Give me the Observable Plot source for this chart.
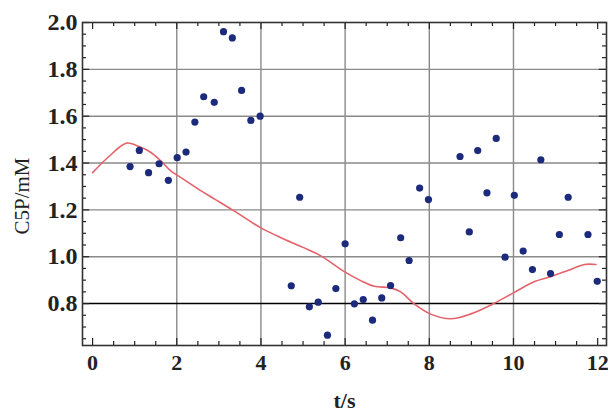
<!DOCTYPE html>
<html>
<head>
<meta charset="utf-8">
<script src="https://cdn.jsdelivr.net/npm/d3@7"></script>
<script src="https://cdn.jsdelivr.net/npm/@observablehq/plot@0.6"></script>
<style>
  html, body { margin: 0; padding: 0; background: #fff; }
  #chart svg { display: block; }
  #chart svg, #chart svg text { font-family: "Liberation Serif", "Times New Roman", serif; }
</style>
</head>
<body>
<div id="chart"></div>
<script>
// Measured points (t in s, C5P in mM)
const tData = [0.89, 1.11, 1.33, 1.58, 1.80, 2.01, 2.22, 2.43, 2.64, 2.89, 3.11, 3.32, 3.54, 3.76, 3.98,
  4.72, 4.92, 5.15, 5.36, 5.58, 5.78, 6.00, 6.22, 6.43, 6.65, 6.87, 7.08, 7.32, 7.52, 7.77, 7.98,
  8.73, 8.95, 9.15, 9.37, 9.59, 9.80, 10.02, 10.23, 10.45, 10.65, 10.88, 11.09, 11.30, 11.77, 11.99];
const cData = [1.385, 1.454, 1.359, 1.397, 1.326, 1.423, 1.447, 1.575, 1.683, 1.659, 1.961, 1.934, 1.710, 1.582, 1.600,
  0.876, 1.254, 0.786, 0.806, 0.665, 0.864, 1.055, 0.799, 0.817, 0.729, 0.824, 0.877, 1.081, 0.984, 1.293, 1.244,
  1.428, 1.106, 1.453, 1.273, 1.505, 0.998, 1.262, 1.024, 0.945, 1.414, 0.928, 1.095, 1.254, 1.095, 0.895];

// Model curve
const curveT = [0, 0.4, 0.81, 1.13, 1.37, 1.61, 1.85, 2.08, 2.56, 2.92, 3.35, 4.0, 4.54, 5.0, 5.34, 5.65, 6.0,
  6.37, 6.69, 7.08, 7.32, 7.64, 8.02, 8.51, 8.99, 9.54, 10.02, 10.5, 10.88, 11.29, 11.69, 11.96];
const curveC = [1.359, 1.43, 1.485, 1.468, 1.447, 1.411, 1.368, 1.34, 1.283, 1.244, 1.197, 1.123, 1.076, 1.04, 1.012, 0.977, 0.934,
  0.898, 0.874, 0.867, 0.850, 0.799, 0.756, 0.735, 0.756, 0.801, 0.848, 0.894, 0.915, 0.941, 0.967, 0.967];

// Axis ticks
const xMajor = [0, 2, 4, 6, 8, 10, 12];
const xMinor = d3.range(0, 12.01, 0.5).filter(v => Math.abs(v % 2) > 1e-9);
const yMajor = [0.8, 1.0, 1.2, 1.4, 1.6, 1.8, 2.0];
const yMinor = d3.range(0.65, 2.001, 0.05).map(v => +v.toFixed(2)).filter(v => !yMajor.some(m => Math.abs(m - v) < 1e-9));
const xGrid = [2, 4, 6, 8, 10];
const yGrid = [1.0, 1.2, 1.4, 1.6, 1.8];
const refLine = [0.8];

const xDom = [-0.24, 12.21];
const yDom = [0.621, 2.0];

const points = tData.map((t, i) => ({t, c: cData[i]}));
const curve = curveT.map((t, i) => ({t, c: curveC[i]}));

const xMaj = 0.03, xMin = 0.017;   // tick lengths in y units
const yMaj = 0.17, yMin = 0.095;   // tick lengths in x units
const tickStyle = {stroke: "#222", strokeWidth: 1.2};
const serif = "'Liberation Serif', 'Times New Roman', serif";

const chart = Plot.plot({
  width: 608,
  height: 411,
  marginLeft: 82,
  marginRight: 2,
  marginTop: 22,
  marginBottom: 66,
  style: {fontFamily: serif, background: "#fff"},
  x: {domain: xDom, label: null},
  y: {domain: yDom, label: null},
  marks: [
    Plot.ruleX(xGrid, {x: d => d, stroke: "#8a8a8a", strokeWidth: 1.4}),
    Plot.ruleY(yGrid, {y: d => d, stroke: "#8a8a8a", strokeWidth: 1.4}),
    Plot.ruleY(refLine, {y: d => d, stroke: "#000", strokeWidth: 1.6}),
    // inward ticks bottom/top
    Plot.ruleX(xMajor, {x: d => d, y1: yDom[0], y2: yDom[0] + xMaj, ...tickStyle}),
    Plot.ruleX(xMinor, {x: d => d, y1: yDom[0], y2: yDom[0] + xMin, ...tickStyle}),
    Plot.ruleX(xMajor, {x: d => d, y1: yDom[1], y2: yDom[1] - xMaj, ...tickStyle}),
    Plot.ruleX(xMinor, {x: d => d, y1: yDom[1], y2: yDom[1] - xMin, ...tickStyle}),
    // inward ticks left/right
    Plot.ruleY(yMajor, {y: d => d, x1: xDom[0], x2: xDom[0] + yMaj, ...tickStyle}),
    Plot.ruleY(yMinor, {y: d => d, x1: xDom[0], x2: xDom[0] + yMin, ...tickStyle}),
    Plot.ruleY(yMajor, {y: d => d, x1: xDom[1], x2: xDom[1] - yMaj, ...tickStyle}),
    Plot.ruleY(yMinor, {y: d => d, x1: xDom[1], x2: xDom[1] - yMin, ...tickStyle}),
    Plot.line(curve, {x: "t", y: "c", curve: "catmull-rom", stroke: "#e5626a", strokeWidth: 1.6}),
    Plot.dot(points, {x: "t", y: "c", r: 3.6, fill: "#1c2a7c", stroke: "none"}),
    Plot.frame({stroke: "#333", strokeWidth: 1.6}),
    Plot.axisX(xMajor, {tickSize: 0, tickPadding: 9, fontSize: 22, fontWeight: "bold", fill: "#222", fontFamily: serif, label: null}),
    Plot.axisY(yMajor, {tickSize: 0, tickPadding: 5, fontSize: 24, fontWeight: "bold", fill: "#222", fontFamily: serif, tickFormat: d3.format(".1f"), label: null}),
    Plot.text(["C5P/mM"], {frameAnchor: "left", textAnchor: "middle", dx: -60, dy: 12, rotate: -90, fontSize: 21, fill: "#222", fontFamily: serif}),
    Plot.text(["t/s"], {frameAnchor: "bottom", textAnchor: "middle", dy: 62, fontSize: 22, fontWeight: "bold", fill: "#222", fontFamily: serif})
  ]
});
document.getElementById("chart").appendChild(chart);
</script>
</body>
</html>
